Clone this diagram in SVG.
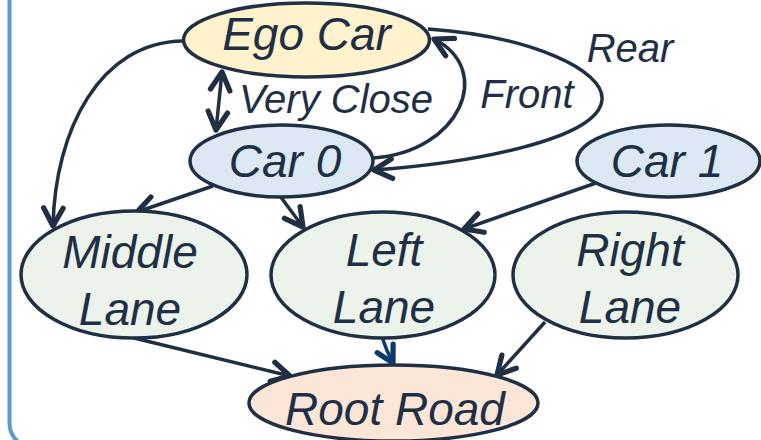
<svg xmlns="http://www.w3.org/2000/svg" width="761" height="440" viewBox="0 0 761 440">
  <style>
    .node { stroke: #1f3045; stroke-width: 3.5; }
    .ego { fill: #fff2cc; }
    .car { fill: #dce9f5; }
    .lane { fill: #ebf3ea; }
    .root { fill: #fce6d8; }
    .label { font-family: "Liberation Sans", Arial, sans-serif; font-style: italic; fill: #1f3045; text-anchor: middle; }
    .big { font-size: 46px; }
    .small { font-size: 40px; }
    .edge { fill: none; stroke: #1f3045; stroke-width: 3.5; }
  </style>
  <defs>
    <marker id="arrow" markerUnits="userSpaceOnUse" markerWidth="30" markerHeight="30" refX="0" refY="0" viewBox="-16 -10 20 20" orient="auto-start-reverse">
      <path d="M -12 -6.5 L 0 0 L -12 6.5" fill="none" stroke="#1f3045" stroke-width="3.5" stroke-linecap="round" stroke-linejoin="round"/>
    </marker>
    <marker id="arrowBlue" markerUnits="userSpaceOnUse" markerWidth="30" markerHeight="30" refX="0" refY="0" viewBox="-16 -10 20 20" orient="auto">
      <path d="M -11 -6 L 0 0 L -11 6" fill="none" stroke="#0b3a6e" stroke-width="3.5" stroke-linecap="round" stroke-linejoin="round"/>
    </marker>
  </defs>

  <!-- panel frame -->
  <rect x="9.5" y="-40" width="800" height="488" rx="25" fill="none" stroke="#5b9bd5" stroke-width="4"/>

  <!-- connectors -->
  <g id="connectors">
    <line class="edge" x1="222" y1="72" x2="216" y2="130" marker-start="url(#arrow)" marker-end="url(#arrow)"/>
    <path class="edge" d="M 183 41 C 100 42 55 130 53 226" marker-end="url(#arrow)"/>
    <path class="edge" d="M 373 158 C 460 152 495 70 434 39" marker-end="url(#arrow)"/>
    <path class="edge" d="M 428 29 C 530 36 605 70 602 100 C 598 140 470 163 374 170" marker-end="url(#arrow)"/>
    <line class="edge" x1="213" y1="186" x2="137" y2="212" marker-end="url(#arrow)"/>
    <line class="edge" x1="280" y1="196" x2="303" y2="227" marker-end="url(#arrow)"/>
    <line class="edge" x1="596" y1="183" x2="464" y2="229" marker-end="url(#arrow)"/>
    <line class="edge" x1="134" y1="338" x2="290" y2="376" marker-end="url(#arrow)"/>
    <path d="M 382 337 Q 386 350 393 363" fill="none" stroke="#0b3a6e" stroke-width="3.5" marker-end="url(#arrowBlue)"/>
    <line class="edge" x1="545" y1="322" x2="497" y2="375" marker-end="url(#arrow)"/>
    <text class="label small" x="336" y="113">Very Close</text>
    <text class="label small" x="527" y="108">Front</text>
    <text class="label small" x="630" y="62">Rear</text>
  </g>

  <g id="ego-car">
    <ellipse class="node ego" cx="306.5" cy="40" rx="123" ry="37"/>
    <text class="label big" x="306.5" y="50">Ego Car</text>
  </g>
  <g id="car-0">
    <ellipse class="node car" cx="281.5" cy="161" rx="91.5" ry="36"/>
    <text class="label big" x="285" y="177">Car 0</text>
  </g>
  <g id="car-1">
    <ellipse class="node car" cx="668.5" cy="161" rx="91.5" ry="36"/>
    <text class="label big" x="667" y="177">Car 1</text>
  </g>
  <g id="middle-lane">
    <ellipse class="node lane" cx="134" cy="274.5" rx="113" ry="63.5"/>
    <text class="label big" x="130" y="268">Middle</text>
    <text class="label big" x="130" y="325">Lane</text>
  </g>
  <g id="left-lane">
    <ellipse class="node lane" cx="383" cy="275" rx="112" ry="63"/>
    <text class="label big" x="384" y="266">Left</text>
    <text class="label big" x="384" y="323">Lane</text>
  </g>
  <g id="right-lane">
    <ellipse class="node lane" cx="625.5" cy="275" rx="112.5" ry="63"/>
    <text class="label big" x="630" y="266">Right</text>
    <text class="label big" x="630" y="323">Lane</text>
  </g>
  <g id="root-road">
    <ellipse class="node root" cx="393.5" cy="403" rx="144.5" ry="38"/>
    <text class="label big" x="395" y="425">Root Road</text>
  </g>
</svg>
